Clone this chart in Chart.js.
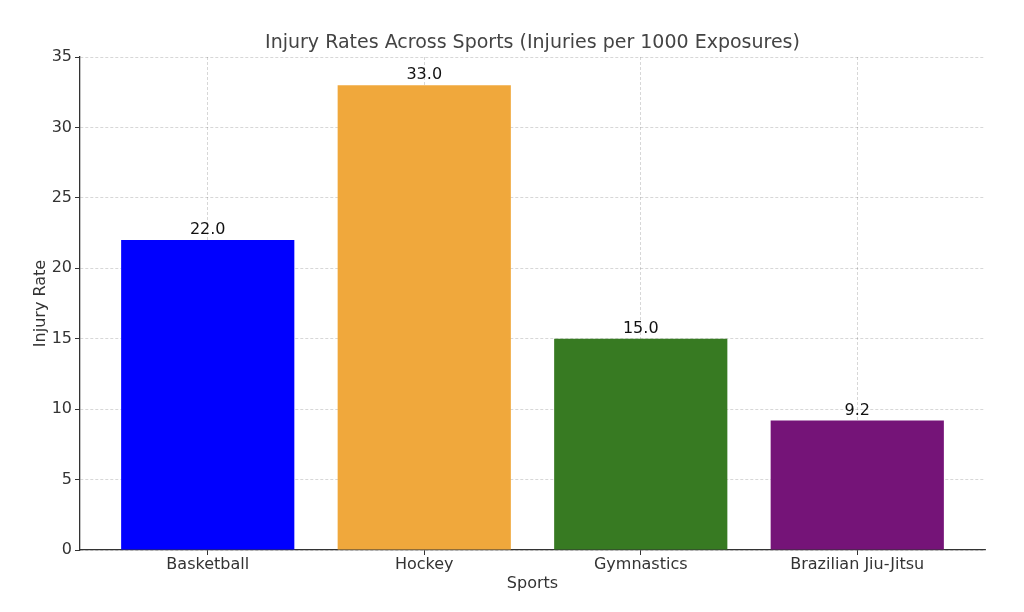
<!DOCTYPE html>
<html>
<head>
<meta charset="utf-8">
<script src="https://cdn.jsdelivr.net/npm/chart.js@4/dist/chart.umd.min.js"></script>
<style>
  html, body { margin: 0; padding: 0; background: #fff; }
  #wrap { width: 1024px; height: 612px; }
</style>
</head>
<body>
<div id="wrap"><canvas id="chart"></canvas></div>
<script>
// 数据
const sports = ["Basketball", "Hockey", "Gymnastics", "Brazilian Jiu-Jitsu"];
const injuryRates = [22.0, 33.0, 15.0, 9.2];
const barColors = ["#0000ff", "#f0a83c", "#377a22", "#751478"];
const yTicks = [0, 5, 10, 15, 20, 25, 30, 35];
const chartTitle = "Injury Rates Across Sports (Injuries per 1000 Exposures)";

const FONT = "'DejaVu Sans', sans-serif";
const TEXT = "#333333";

// 标题居中于绘图区（matplotlib 风格）
const plotTitle = {
  id: "plotTitle",
  afterDraw(chart) {
    const { ctx, chartArea } = chart;
    ctx.save();
    ctx.fillStyle = "#444";
    ctx.font = "19px " + FONT;
    ctx.textAlign = "center";
    ctx.textBaseline = "middle";
    ctx.fillText(chartTitle, (chartArea.left + chartArea.right) / 2, 43);
    ctx.restore();
  },
};

// 柱顶数值标签
const valueLabels = {
  id: "valueLabels",
  afterDatasetsDraw(chart) {
    const ctx = chart.ctx;
    const meta = chart.getDatasetMeta(0);
    ctx.save();
    ctx.fillStyle = "#111";
    ctx.font = "16px " + FONT;
    ctx.textAlign = "center";
    ctx.textBaseline = "bottom";
    meta.data.forEach((bar, i) => {
      ctx.fillText(injuryRates[i].toFixed(1), bar.x, bar.y - 2);
    });
    ctx.restore();
  },
};

new Chart(document.getElementById("chart"), {
  type: "bar",
  data: {
    datasets: [{
      data: injuryRates.map((v, i) => ({ x: i, y: v })),
      backgroundColor: barColors,
      borderWidth: 0,
      barPercentage: 0.8,
      categoryPercentage: 1.0,
    }],
  },
  options: {
    responsive: true,
    maintainAspectRatio: false,
    animation: false,
    layout: { padding: { left: 0, right: 39, top: 57, bottom: 0 } },
    plugins: {
      legend: { display: false },
      tooltip: { enabled: false },
      title: { display: false },
    },
    scales: {
      x: {
        type: "linear",
        min: -0.59,
        max: 3.59,
        offset: false,
        z: 1,
        afterFit: (s) => { s.height = 62; },
        ticks: {
          stepSize: 1,
          includeBounds: false,
          autoSkip: false,
          maxRotation: 0,
          color: TEXT,
          font: { family: FONT, size: 16 },
          padding: 0,
          callback: (v) => sports[v] ?? "",
        },
        grid: {
          offset: false,
          color: "rgba(0,0,0,0.2)",
          lineWidth: 0.8,
          tickLength: 5,
          tickColor: "#333",
          tickWidth: 1,
        },
        border: { display: true, color: "#333", width: 1.3, dash: [3, 2] },
        title: {
          display: true,
          text: "Sports",
          color: TEXT,
          font: { family: FONT, size: 16 },
          padding: { top: 0, bottom: 19 },
        },
      },
      y: {
        min: 0,
        max: 35,
        z: 1,
        afterFit: (s) => { s.width = 80; },
        afterBuildTicks: (s) => { s.ticks = yTicks.map((v) => ({ value: v })); },
        ticks: {
          color: TEXT,
          font: { family: FONT, size: 16 },
          padding: 3,
        },
        grid: {
          color: "rgba(0,0,0,0.2)",
          lineWidth: 0.8,
          tickLength: 5,
          tickColor: "#333",
          tickWidth: 1,
        },
        border: { display: true, color: "#333", width: 1.3, dash: [3, 2] },
        title: {
          display: true,
          text: "Injury Rate",
          color: TEXT,
          font: { family: FONT, size: 16 },
          padding: { top: 31, bottom: 0 },
        },
      },
    },
  },
  plugins: [valueLabels, plotTitle],
});
</script>
</body>
</html>
